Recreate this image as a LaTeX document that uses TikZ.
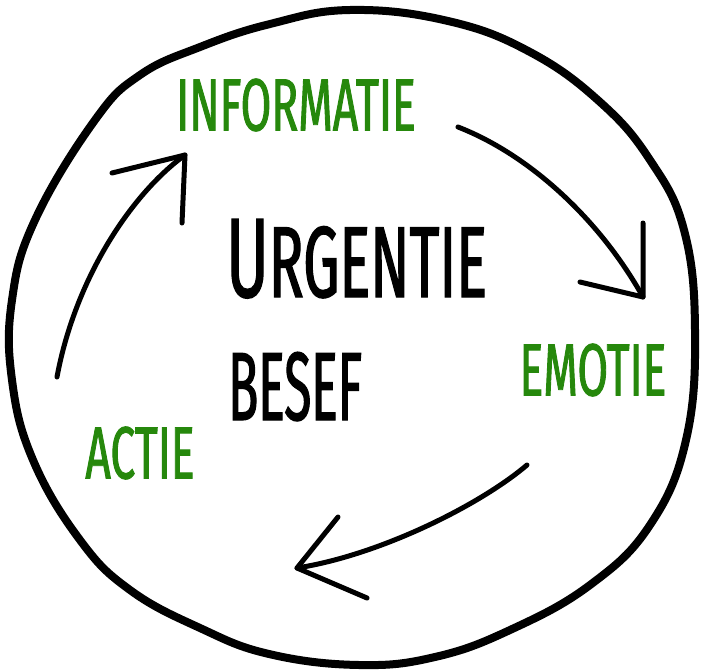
\documentclass[tikz,border=0pt]{standalone}
\usepackage{fontspec}
\newfontfamily\hand{Fira Sans}[FakeStretch=0.6, FakeBold=1.2]
\newfontfamily\handgroot{Fira Sans}[FakeStretch=0.57, FakeBold=1.2]
\newfontfamily\handsmal{Fira Sans}[FakeStretch=0.51, FakeBold=1.2]
\definecolor{leaf}{RGB}{38,136,12}

\begin{document}
\begin{tikzpicture}[x=1pt,y=-1pt]
    \tikzstyle{every node}=[inner sep=0pt]
    \tikzstyle{groen}=[text=leaf, font=\hand\fontsize{74}{74}\selectfont]
    \tikzstyle{zwart}=[text=black, anchor=base west]
    \tikzstyle{rand}=[line width=8pt, line cap=round, line join=round]
    \tikzstyle{pijl}=[line width=5pt, line cap=round, line join=round]
    \useasboundingbox (0,0) rectangle (702,672);
    \fill[white] (0,0) rectangle (702,672);

    % de cirkel
    \draw[rand] plot[smooth cycle, tension=0.7] coordinates {
        (350,10) (448,21) (530,52) (600,102) (650,160)
        (684,230) (695,330) (686,440) (650,525) (590,585)
        (510,630) (435,657) (359,665) (269,654) (200,628)
        (130,590) (80,540) (33,460) (12,380) (12,300)
        (35,220) (95,120) (140,75) (200,47) (270,24)};

    \node[groen] (info) at (296,105) {INFORMATIE};
    \node[groen] (emo) at (593,370) {EMOTIE};
    \node[groen] (actie) at (140,453) {ACTIE};
    \node[zwart] (urg) at (226,297) {\handgroot\fontsize{113}{113}\selectfont U\fontsize{101}{101}\selectfont RGENTIE};
    \node[zwart] (besef) at (228,420) {\handsmal\fontsize{97}{97}\selectfont BESEF};

    % pijlen
    \coordinate (s1) at (458,127);
    \coordinate (t1) at (643,297);
    \coordinate (s2) at (527,465);
    \coordinate (t2) at (297,568);
    \coordinate (s3) at (57,377);
    \coordinate (t3) at (185,155);

    \draw[pijl] (s1) .. controls (530,155) and (600,220) .. (t1);
    \draw[pijl] (643,223) -- (t1) -- (580,282);
    \draw[pijl] (s2) .. controls (480,505) and (380,555) .. (t2);
    \draw[pijl] (338,517) -- (t2) -- (367,598);
    \draw[pijl] (s3) .. controls (75,280) and (130,195) .. (t3);
    \draw[pijl] (112,173) -- (t3) -- (182,223);
\end{tikzpicture}
\end{document}
